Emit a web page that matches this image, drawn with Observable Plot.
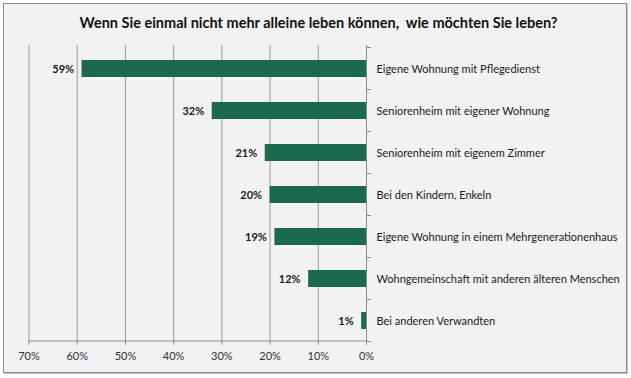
<!DOCTYPE html>
<html>
<head>
<meta charset="utf-8">
<script src="https://cdn.jsdelivr.net/npm/d3@7"></script>
<script src="https://cdn.jsdelivr.net/npm/@observablehq/plot@0.6"></script>
<style>
  html, body { margin: 0; padding: 0; background: #ffffff; }
  #wrap { position: relative; width: 631px; height: 378px; overflow: hidden; font-family: Lato, "Open Sans", sans-serif; }
  #box { position: absolute; left: 3px; top: 3px; width: 622px; height: 368px; border: 1px solid #8a8a8a; background: #f2f2f2; box-shadow: 1px 1px 1px #c8c8c8; }
  #title { position: absolute; left: 3px; top: 14px; width: 631px; text-align: center; font-weight: bold; font-size: 14.5px; color: #111; white-space: pre; }
  #chart { position: absolute; left: 0; top: 0; }
</style>
</head>
<body>
<div id="wrap">
  <div id="box"></div>
  <div id="title">Wenn Sie einmal nicht mehr alleine leben können,  wie möchten Sie leben?</div>
  <div id="chart"></div>
</div>
<script>
const categories = [
  "Eigene Wohnung mit Pflegedienst",
  "Seniorenheim mit eigener Wohnung",
  "Seniorenheim mit eigenem Zimmer",
  "Bei den Kindern, Enkeln",
  "Eigene Wohnung in einem Mehrgenerationenhaus",
  "Wohngemeinschaft mit anderen älteren Menschen",
  "Bei anderen Verwandten"
];
const values = [59, 32, 21, 20, 19, 12, 1];
const xTicks = [0, 10, 20, 30, 40, 50, 60, 70];

const data = categories.map((label, i) => ({label, value: values[i]}));

const axisColor = "#8c8c8c";

// category boundary ticks on the 0-axis and the bottom axis line
function extraAxes(index, scales, values, dimensions) {
  const g = d3.create("svg:g").attr("stroke", axisColor).attr("fill", "none");
  const y = scales.y, x = scales.x;
  const bw = y.bandwidth ? y.bandwidth() : 0;
  const step = y.step ? y.step() : bw;
  const x0 = x(0);
  const bounds = [];
  categories.forEach((c, i) => {
    const mid = y(c) + bw / 2;
    if (i === 0) bounds.push(mid - step / 2);
    bounds.push(mid + step / 2);
  });
  for (const b of bounds) {
    g.append("line").attr("x1", x0).attr("x2", x0 + 5).attr("y1", b).attr("y2", b);
  }
  const yb = dimensions.height - dimensions.marginBottom;
  g.append("line").attr("x1", x(d3.max(xTicks))).attr("x2", x0).attr("y1", yb).attr("y2", yb);
  return g.node();
}

const plot = Plot.plot({
  width: 631,
  height: 378,
  marginLeft: 28.5,
  marginRight: 265,
  marginTop: 45,
  marginBottom: 37,
  style: { background: "transparent", fontFamily: "Lato, 'Open Sans', sans-serif", color: "#1a1a1a" },
  x: { domain: [0, 70], reverse: true, label: null },
  y: { domain: categories, paddingInner: 0.6, paddingOuter: 0.3, insetTop: 2, label: null },
  marks: [
    Plot.gridX(xTicks, { stroke: "#9a9a9a", strokeOpacity: 1 }),
    Plot.barX(data, { x: "value", y: "label", fill: "#1c6a4c" }),
    Plot.ruleX([0], { stroke: axisColor }),
    extraAxes,
    Plot.axisX(xTicks, {
      anchor: "bottom", tickSize: 4, tickPadding: 7, stroke: axisColor, label: null,
      tickFormat: d => d + "%", fontSize: 11, fill: "#333"
    }),
    Plot.axisY({
      anchor: "right", tickSize: 0, tickPadding: 10, textAnchor: "start",
      fontSize: 11, fill: "#1a1a1a", label: null
    }),
    Plot.text(data, {
      x: "value", y: "label", text: d => d.value + "%",
      textAnchor: "end", dx: -8, fontWeight: "bold", fontSize: 11, fill: "#1a1a1a"
    })
  ]
});
document.getElementById("chart").appendChild(plot);
</script>
</body>
</html>
